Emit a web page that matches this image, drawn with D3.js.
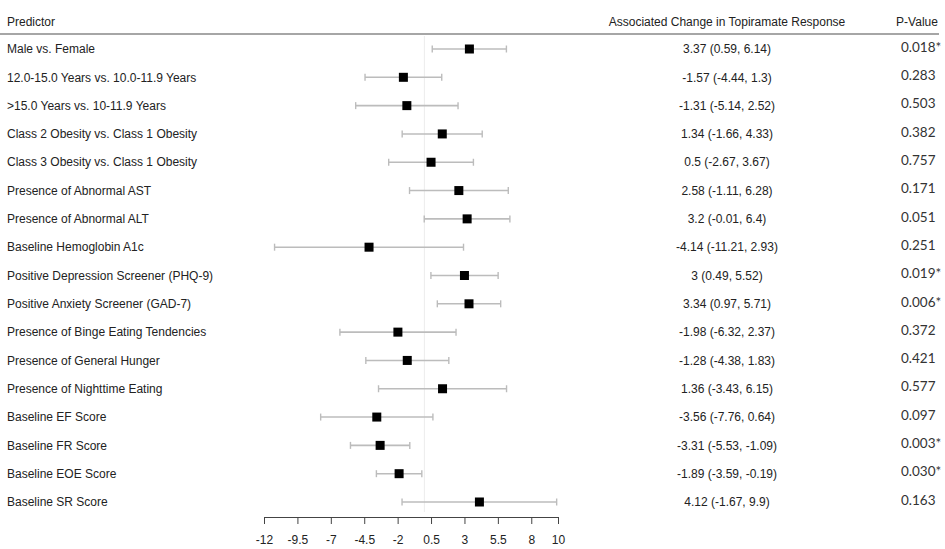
<!DOCTYPE html>
<html>
<head>
<meta charset="utf-8">
<script src="https://cdn.jsdelivr.net/npm/d3@7"></script>
<style>
  body { margin: 0; background: #fff; }
  svg { display: block; }
</style>
</head>
<body>
<script>
// Forest plot data
var predictors = [
    "Male vs. Female",
    "12.0-15.0 Years vs. 10.0-11.9 Years",
    ">15.0 Years vs. 10-11.9 Years",
    "Class 2 Obesity vs. Class 1 Obesity",
    "Class 3 Obesity vs. Class 1 Obesity",
    "Presence of Abnormal AST",
    "Presence of Abnormal ALT",
    "Baseline Hemoglobin A1c",
    "Positive Depression Screener (PHQ-9)",
    "Positive Anxiety Screener (GAD-7)",
    "Presence of Binge Eating Tendencies",
    "Presence of General Hunger",
    "Presence of Nighttime Eating",
    "Baseline EF Score",
    "Baseline FR Score",
    "Baseline EOE Score",
    "Baseline SR Score"
]
var estimates = [3.37, -1.57, -1.31, 1.34, 0.5, 2.58, 3.2, -4.14, 3, 3.34, -1.98, -1.28, 1.36, -3.56, -3.31, -1.89, 4.12]
var lower = [0.59, -4.44, -5.14, -1.66, -2.67, -1.11, -0.01, -11.21, 0.49, 0.97, -6.32, -4.38, -3.43, -7.76, -5.53, -3.59, -1.67]
var upper = [6.14, 1.3, 2.52, 4.33, 3.67, 6.28, 6.4, 2.93, 5.52, 5.71, 2.37, 1.83, 6.15, 0.64, -1.09, -0.19, 9.9]
var pValues = ["0.018*", "0.283", "0.503", "0.382", "0.757", "0.171", "0.051", "0.251", "0.019*", "0.006*", "0.372", "0.421", "0.577", "0.097", "0.003*", "0.030*", "0.163"]
var xTicks = [-12, -9.5, -7, -4.5, -2, 0.5, 3, 5.5, 8, 10]

function main() {
    var width = 945
    var height = 549

    var svg = d3.select('body').append('svg')
        .attr("width", width)
        .attr("height", height)
        .style("font-family", "'Liberation Sans', Arial, sans-serif")

    svg.append("rect").attr("width", width).attr("height", height).attr("fill", "#fff")

    // Scales
    var xScale = d3.scaleLinear()
        .domain([-12, 10])
        .range([264, 558])

    var yScale = d3.scalePoint()
        .domain(predictors)
        .range([49, 502])

    var rows = predictors.map(function (p, i) {
        return { name: p, est: estimates[i], lo: lower[i], hi: upper[i], p: pValues[i] }
    })

    // Header
    svg.append("text").attr("x", 7).attr("y", 26)
        .attr("font-size", 12).attr("fill", "#222").text("Predictor")
    svg.append("text").attr("x", 727).attr("y", 26).attr("text-anchor", "middle")
        .attr("font-size", 12).attr("fill", "#222").text("Associated Change in Topiramate Response")
    svg.append("text").attr("x", 917).attr("y", 26).attr("text-anchor", "middle")
        .attr("font-size", 12).attr("fill", "#222").text("P-Value")
    svg.append("line")
        .attr("x1", 0).attr("x2", 939).attr("y1", 34).attr("y2", 34)
        .attr("stroke", "#888").attr("stroke-width", 1.5)

    // Zero reference line
    svg.append("line")
        .attr("x1", xScale(0)).attr("x2", xScale(0))
        .attr("y1", 36).attr("y2", 512)
        .attr("stroke", "#ececec").attr("stroke-width", 1)

    var row = svg.selectAll("g.row")
        .data(rows)
        .enter().append("g")
        .attr("class", "row")
        .attr("transform", function (d) { return "translate(0," + yScale(d.name) + ")" })

    // Labels
    row.append("text")
        .attr("x", 7).attr("dy", "0.35em")
        .attr("font-size", 12).attr("fill", "#222")
        .text(function (d) { return d.name })

    // CI lines and caps
    row.append("line")
        .attr("x1", function (d) { return xScale(d.lo) })
        .attr("x2", function (d) { return xScale(d.hi) })
        .attr("stroke", "#bcbcbc").attr("stroke-width", 1.6)
    row.selectAll("line.cap")
        .data(function (d) { return [d.lo, d.hi] })
        .enter().append("line")
        .attr("class", "cap")
        .attr("x1", function (v) { return xScale(v) })
        .attr("x2", function (v) { return xScale(v) })
        .attr("y1", -3.5).attr("y2", 3.5)
        .attr("stroke", "#bcbcbc").attr("stroke-width", 1.4)

    // Point estimates
    row.append("rect")
        .attr("x", function (d) { return xScale(d.est) - 4.5 })
        .attr("y", -4.5)
        .attr("width", 9).attr("height", 9)
        .attr("fill", "#000")

    // Estimate text
    row.append("text")
        .attr("x", 727).attr("dy", "0.35em").attr("text-anchor", "middle")
        .attr("font-size", 12).attr("fill", "#222")
        .text(function (d) { return d.est + " (" + d.lo + ", " + d.hi + ")" })

    // P-values
    row.append("text")
        .attr("x", 901).attr("y", -2).attr("dy", "0.35em")
        .attr("font-family", "Lato, 'Open Sans', sans-serif")
        .attr("font-size", 13.5).attr("fill", "#333")
        .text(function (d) { return d.p })

    // X-axis
    var x_axis = d3.axisBottom(xScale)
        .tickValues(xTicks)
        .tickFormat(function (d) { return d })
        .tickSize(7)
        .tickSizeOuter(0)
        .tickPadding(11)

    var gAxis = svg.append('g')
        .attr("transform", "translate(0,517)")
        .call(x_axis)
    gAxis.select(".domain").attr("stroke", "#444")
    gAxis.selectAll(".tick line").attr("stroke", "#444")
    gAxis.selectAll("text")
        .attr("font-size", 12)
        .attr("font-family", "'Liberation Sans', Arial, sans-serif")
        .attr("fill", "#222")
}

main()
</script>
</body>
</html>
